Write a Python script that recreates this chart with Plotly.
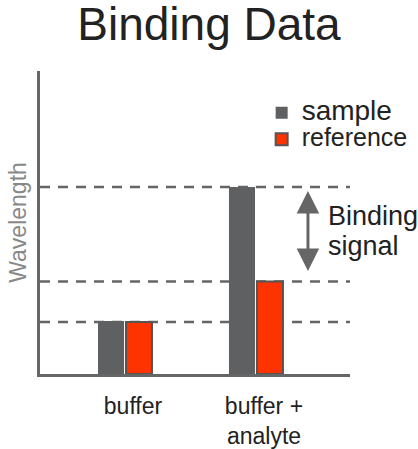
import plotly.graph_objects as go

categories = ["buffer", "buffer +<br>analyte"]
sample_values = [1.75, 6.17]
reference_values = [1.72, 3.05]
series_names = ["sample", "reference"]
dashed_levels = [6.17, 3.05, 1.72]
arrow_label_lines = ["Binding", "signal"]

GRAY = "#5f6062"
RED = "#ff3300"
LINE = "#666666"
FONT = "Liberation Sans, Arial, sans-serif"

xpos = list(range(len(categories)))

fig = go.Figure()
fig.add_trace(go.Bar(
    x=xpos, y=sample_values, name="<span style='font-size:28px'>" + series_names[0] + "</span>",
    marker=dict(color=GRAY, line=dict(width=0)),
))
fig.add_trace(go.Bar(
    x=xpos, y=reference_values, name="<span style='font-size:25px'>" + series_names[1] + "</span>",
    marker=dict(color=RED, line=dict(color="#555555", width=2)),
))

for lv in dashed_levels:
    fig.add_shape(type="line", xref="paper", yref="y", x0=0, x1=1, y0=lv, y1=lv,
                  line=dict(color=LINE, width=2.5, dash="10px,8px"), layer="below")

# double-headed arrow between analyte sample and reference levels
ax_x = 1.397
fig.add_annotation(x=ax_x, y=sample_values[1], ax=ax_x, ay=reference_values[1],
                   xref="x", yref="y", axref="x", ayref="y", text="",
                   showarrow=True, arrowhead=2, startarrowhead=2, arrowside="end+start",
                   arrowsize=1.5, startarrowsize=1.5, arrowwidth=3, arrowcolor=LINE,
                   standoff=4, startstandoff=9)
mid = (sample_values[1] + reference_values[1]) / 2
for i, line in enumerate(arrow_label_lines):
    fig.add_annotation(x=ax_x, y=mid, xref="x", yref="y", text=line, showarrow=False,
                       xanchor="left", yanchor="middle", xshift=18, yshift=18 - 30 * i,
                       font=dict(size=27, color="#222222", family=FONT))

fig.update_layout(
    width=418, height=449,
    margin=dict(l=40, r=68, t=71, b=75, autoexpand=False),
    paper_bgcolor="white", plot_bgcolor="white",
    barmode="group", bargap=0.573, bargroupgap=0.07,
    title=dict(text="Binding Data", x=0.5, xanchor="center", y=0.982, yanchor="top",
               font=dict(size=46, color="#222222", family=FONT)),
    showlegend=True,
    legend=dict(x=0.715, y=0.922, xref="paper", yref="paper", xanchor="left", yanchor="top",
                font=dict(size=18, color="#222222", family=FONT), tracegroupgap=0,
                bgcolor="rgba(0,0,0,0)"),
    font=dict(family=FONT),
)
fig.update_xaxes(range=[-0.649, 1.718], tickvals=xpos, ticktext=categories,
                 showline=True, linecolor=LINE, linewidth=3, showgrid=False, zeroline=False,
                 ticks="", tickfont=dict(size=23, color="#222222", family=FONT),
                 ticklabelshift=8, ticklabelstandoff=9)
fig.update_yaxes(range=[0, 10], showline=True, linecolor=LINE, linewidth=3,
                 showgrid=False, zeroline=False, showticklabels=False, ticks="",
                 title=dict(text="Wavelength", font=dict(size=23, color="#888888", family=FONT),
                            standoff=4))

fig.write_html("out.html", post_script="document.body.style.margin='0';",
               config={"displayModeBar": False})
